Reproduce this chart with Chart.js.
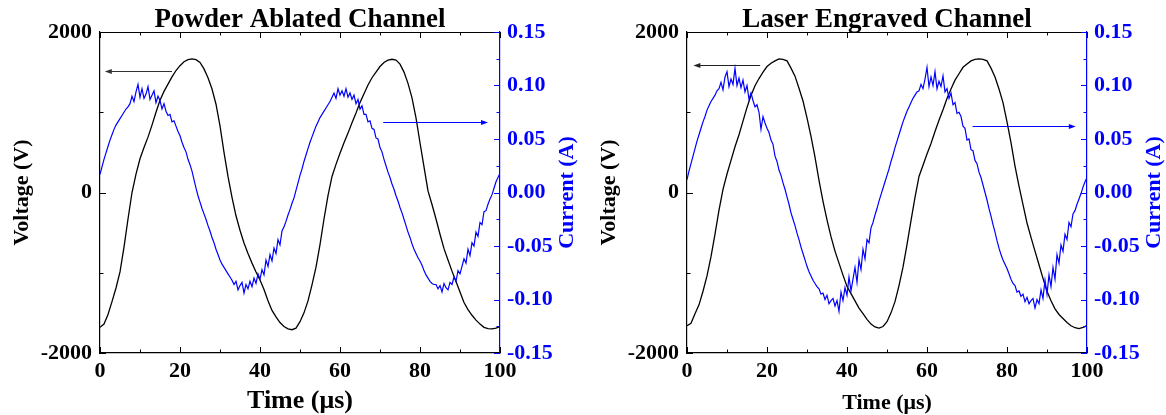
<!DOCTYPE html>
<html>
<head>
<meta charset="utf-8">
<script src="https://cdn.jsdelivr.net/npm/chart.js@4.4.1/dist/chart.umd.min.js"></script>
<style>
  html, body { margin: 0; padding: 0; background: #fff; }
  #wrap { position: relative; width: 1166px; height: 415px; }
  #wrap canvas { position: absolute; top: 0; }
</style>
</head>
<body>
<div id="wrap">
  <canvas id="powder" width="583" height="415" style="left:0"></canvas>
  <canvas id="laser" width="583" height="415" style="left:583px"></canvas>
</div>
<script>
// axis ticks
const timeTicks = [0, 20, 40, 60, 80, 100];
const timeMinorTicks = [10, 30, 50, 70, 90];
const voltageTicks = [-2000, 0, 2000];
const voltageMinorTicks = [-1000, 1000];
const currentTicks = [-0.15, -0.10, -0.05, 0, 0.05, 0.10, 0.15];
const currentMinorTicks = [-0.125, -0.075, -0.025, 0.025, 0.075, 0.125];

// sample spacing in µs (both traces start at 0 µs)
const voltageStep = 1;
const currentStep = 0.5;

// Powder ablated channel, voltage (V)
const powderVoltage = [
  -1680, -1640, -1520, -1360, -1190, -990, -680, -330, 0, 230,
  420, 560, 690, 840, 1000, 1150, 1260, 1350, 1440, 1520,
  1580, 1630, 1655, 1665, 1655, 1620, 1540, 1430, 1290, 1100,
  830, 500, 200, -60, -290, -470, -630, -760, -880, -990,
  -1090, -1210, -1350, -1470, -1550, -1620, -1670, -1700, -1710, -1690,
  -1610, -1500, -1350, -1150, -930, -650, -330, -40, 200, 350,
  490, 620, 740, 870, 990, 1120, 1230, 1340, 1430, 1500,
  1570, 1620, 1650, 1660, 1650, 1600, 1500, 1360, 1180, 930,
  620, 320, 20, -150, -330, -520, -700, -840, -980, -1110,
  -1240, -1370, -1460, -1530, -1590, -1640, -1680, -1695, -1700, -1690,
  -1670
];

// Powder ablated channel, current (A)
const powderCurrent = [
  0.017, 0.024, 0.031, 0.037, 0.043, 0.049, 0.054, 0.059, 0.063, 0.066,
  0.069, 0.072, 0.075, 0.078, 0.080, 0.083, 0.090, 0.085, 0.094, 0.101,
  0.089, 0.097, 0.088, 0.092, 0.099, 0.087, 0.091, 0.095, 0.084, 0.090,
  0.086, 0.078, 0.083, 0.076, 0.072, 0.073, 0.066, 0.067, 0.062, 0.057,
  0.053, 0.047, 0.042, 0.038, 0.031, 0.026, 0.020, 0.012, 0.004, -0.003,
  -0.009, -0.015, -0.020, -0.025, -0.031, -0.036, -0.042, -0.047, -0.053, -0.058,
  -0.063, -0.067, -0.070, -0.073, -0.076, -0.079, -0.082, -0.086, -0.083, -0.091,
  -0.087, -0.084, -0.094, -0.086, -0.090, -0.083, -0.088, -0.080, -0.085, -0.076,
  -0.081, -0.072, -0.077, -0.063, -0.069, -0.058, -0.064, -0.052, -0.057, -0.044,
  -0.049, -0.036, -0.032, -0.027, -0.021, -0.016, -0.010, -0.005, 0.002, 0.009,
  0.016, 0.022, 0.029, 0.035, 0.041, 0.047, 0.052, 0.057, 0.062, 0.066,
  0.070, 0.073, 0.076, 0.079, 0.082, 0.085, 0.089, 0.093, 0.088, 0.097,
  0.091, 0.095, 0.090, 0.097, 0.089, 0.093, 0.087, 0.091, 0.083, 0.087,
  0.078, 0.081, 0.073, 0.073, 0.066, 0.067, 0.060, 0.059, 0.051, 0.050,
  0.042, 0.038, 0.031, 0.025, 0.019, 0.014, 0.008, 0.003, -0.003, -0.008,
  -0.014, -0.019, -0.025, -0.031, -0.037, -0.042, -0.048, -0.053, -0.057, -0.061,
  -0.064, -0.068, -0.073, -0.077, -0.080, -0.083, -0.085, -0.086, -0.086, -0.090,
  -0.087, -0.093, -0.085, -0.089, -0.091, -0.084, -0.086, -0.079, -0.083, -0.073,
  -0.076, -0.069, -0.062, -0.066, -0.053, -0.059, -0.047, -0.050, -0.037, -0.041,
  -0.028, -0.030, -0.018, -0.017, -0.011, -0.006, -0.002, 0.004, 0.010, 0.014,
  0.018
];

// Laser engraved channel, voltage (V)
const laserVoltage = [
  -1660, -1630, -1510, -1400, -1230, -1040, -800, -520, -220, 40,
  230, 400, 570, 720, 890, 1060, 1210, 1330, 1420, 1500,
  1570, 1610, 1640, 1665, 1660, 1640, 1550, 1450, 1300, 1140,
  930, 700, 440, 150, -110, -340, -550, -730, -880, -1030,
  -1170, -1260, -1350, -1440, -1510, -1580, -1640, -1675, -1690, -1670,
  -1610, -1500, -1360, -1160, -930, -650, -350, -60, 200, 340,
  480, 610, 760, 900, 1030, 1170, 1290, 1400, 1480, 1560,
  1600, 1640, 1660, 1665, 1660, 1640, 1550, 1440, 1290, 1120,
  880, 620, 330, 80, -150, -380, -560, -730, -900, -1070,
  -1230, -1350, -1450, -1520, -1570, -1620, -1660, -1685, -1695, -1680,
  -1660
];

// Laser engraved channel, current (A)
const laserCurrent = [
  0.012, 0.020, 0.027, 0.034, 0.041, 0.048, 0.054, 0.060, 0.066, 0.071,
  0.077, 0.081, 0.085, 0.088, 0.091, 0.095, 0.097, 0.103, 0.096, 0.108,
  0.113, 0.099, 0.106, 0.101, 0.116, 0.100, 0.107, 0.098, 0.105, 0.094,
  0.100, 0.087, 0.093, 0.086, 0.080, 0.082, 0.075, 0.059, 0.071, 0.065,
  0.060, 0.056, 0.049, 0.045, 0.034, 0.029, 0.021, 0.016, 0.009, 0.003,
  -0.004, -0.011, -0.019, -0.025, -0.031, -0.038, -0.044, -0.051, -0.057, -0.063,
  -0.069, -0.074, -0.078, -0.082, -0.085, -0.088, -0.090, -0.095, -0.094, -0.100,
  -0.096, -0.104, -0.101, -0.099, -0.106, -0.101, -0.111, -0.093, -0.101, -0.089,
  -0.096, -0.079, -0.092, -0.081, -0.070, -0.084, -0.063, -0.072, -0.053, -0.062,
  -0.044, -0.047, -0.033, -0.028, -0.021, -0.015, -0.008, -0.002, 0.004, 0.010,
  0.016, 0.022, 0.029, 0.035, 0.042, 0.048, 0.054, 0.060, 0.066, 0.071,
  0.076, 0.080, 0.084, 0.088, 0.091, 0.094, 0.095, 0.101, 0.097, 0.106,
  0.117, 0.099, 0.108, 0.100, 0.113, 0.097, 0.104, 0.099, 0.109, 0.094,
  0.097, 0.088, 0.093, 0.082, 0.084, 0.074, 0.075, 0.071, 0.062, 0.060,
  0.049, 0.050, 0.040, 0.039, 0.030, 0.027, 0.019, 0.014, 0.007, 0.000,
  -0.007, -0.015, -0.022, -0.030, -0.037, -0.045, -0.052, -0.058, -0.063, -0.067,
  -0.071, -0.076, -0.081, -0.085, -0.087, -0.093, -0.092, -0.097, -0.095, -0.102,
  -0.098, -0.104, -0.101, -0.099, -0.108, -0.100, -0.104, -0.091, -0.099, -0.082,
  -0.095, -0.077, -0.088, -0.070, -0.081, -0.058, -0.066, -0.049, -0.055, -0.039,
  -0.044, -0.028, -0.032, -0.020, -0.017, -0.011, -0.006, -0.001, 0.005, 0.010,
  0.014
];

const BLUE = '#0000ff';
const SERIF = '"Liberation Serif", "Times New Roman", serif';
Chart.defaults.font.family = SERIF;

const toPoints = (values, step) => values.map((y, i) => ({ x: i * step, y }));

// inward ticks, top edge, the two arrows, panel title and the current axis title
const frameDecor = {
  id: 'frameDecor',
  afterDraw(chart, args, opts) {
    const { ctx, chartArea: area, scales } = chart;
    const { x, voltage, current } = scales;
    const px = v => Math.round(x.getPixelForValue(v)) + 0.5;
    ctx.save();

    ctx.lineWidth = 1;
    ctx.strokeStyle = '#000';
    ctx.beginPath();
    ctx.moveTo(area.left, area.top + 0.5);
    ctx.lineTo(area.right, area.top + 0.5);
    for (const [list, len] of [[timeTicks, 6], [timeMinorTicks, 3.5]]) {
      for (const t of list) {
        ctx.moveTo(px(t), area.bottom);
        ctx.lineTo(px(t), area.bottom - len);
        ctx.moveTo(px(t), area.top);
        ctx.lineTo(px(t), area.top + len);
      }
    }
    for (const [list, len] of [[voltageTicks, 6], [voltageMinorTicks, 3.5]]) {
      for (const v of list) {
        const py = Math.round(voltage.getPixelForValue(v)) + 0.5;
        ctx.moveTo(area.left, py);
        ctx.lineTo(area.left + len, py);
      }
    }
    ctx.stroke();

    ctx.strokeStyle = BLUE;
    ctx.beginPath();
    for (const [list, len] of [[currentTicks, 6], [currentMinorTicks, 3.5]]) {
      for (const v of list) {
        const py = Math.round(current.getPixelForValue(v)) + 0.5;
        ctx.moveTo(area.right, py);
        ctx.lineTo(area.right - len, py);
      }
    }
    ctx.stroke();

    for (const a of opts.arrows) {
      const y = Math.round(scales[a.axis].getPixelForValue(a.value)) + 0.5;
      const x0 = x.getPixelForValue(a.from);
      const x1 = x.getPixelForValue(a.to);
      const dir = Math.sign(x1 - x0);
      ctx.strokeStyle = a.color;
      ctx.fillStyle = a.color;
      ctx.lineWidth = 1.2;
      ctx.beginPath();
      ctx.moveTo(x0, y);
      ctx.lineTo(x1 - dir * 4, y);
      ctx.stroke();
      ctx.beginPath();
      ctx.moveTo(x1, y);
      ctx.lineTo(x1 - dir * 7, y - 2.5);
      ctx.lineTo(x1 - dir * 7, y + 2.5);
      ctx.closePath();
      ctx.fill();
    }

    ctx.fillStyle = '#000';
    ctx.font = 'bold 27px ' + SERIF;
    ctx.textAlign = 'center';
    ctx.textBaseline = 'alphabetic';
    ctx.fillText(opts.title, (area.left + area.right) / 2, 27);

    // the current label reads bottom-to-top, same as the voltage label
    ctx.translate(area.right + 67, (area.top + area.bottom) / 2);
    ctx.rotate(-Math.PI / 2);
    ctx.fillStyle = BLUE;
    ctx.font = 'bold 22px ' + SERIF;
    ctx.textBaseline = 'middle';
    ctx.fillText('Current (A)', 0, 0);
    ctx.restore();
  }
};

function makePanel(id, cfg) {
  const tickFont = { family: SERIF, size: 22, weight: 'bold' };
  return new Chart(document.getElementById(id), {
    type: 'line',
    data: {
      datasets: [
        {
          label: 'Current',
          yAxisID: 'current',
          data: toPoints(cfg.current, currentStep),
          borderColor: BLUE,
          borderWidth: 1.2,
          pointRadius: 0,
          tension: 0,
          order: 0
        },
        {
          label: 'Voltage',
          yAxisID: 'voltage',
          data: toPoints(cfg.voltage, voltageStep),
          borderColor: '#000',
          borderWidth: 1.3,
          pointRadius: 0,
          tension: 0,
          order: 1
        }
      ]
    },
    options: {
      responsive: false,
      animation: false,
      events: [],
      layout: { padding: { top: 32, left: 0, right: 0, bottom: 0 } },
      plugins: {
        legend: { display: false },
        tooltip: { enabled: false },
        frameDecor: { title: cfg.title, arrows: cfg.arrows }
      },
      scales: {
        x: {
          type: 'linear',
          min: 0,
          max: 100,
          afterBuildTicks: s => { s.ticks = timeTicks.map(value => ({ value })); },
          afterFit: s => { s.height = 62; },
          grid: { display: false, drawTicks: false },
          border: { display: true, color: '#000', width: 1.2 },
          ticks: { color: '#000', font: tickFont, padding: 5, maxRotation: 0, autoSkip: false, callback: v => String(v) },
          title: {
            display: true,
            text: 'Time (μs)',
            color: '#000',
            font: { family: SERIF, size: cfg.xTitleSize, weight: 'bold', lineHeight: 1 },
            padding: { top: 0, bottom: 1 }
          }
        },
        voltage: {
          type: 'linear',
          position: 'left',
          min: -2000,
          max: 2000,
          afterBuildTicks: s => { s.ticks = voltageTicks.map(value => ({ value })); },
          afterFit: s => { s.width = cfg.leftWidth; },
          grid: { display: false, drawTicks: false },
          border: { display: true, color: '#000', width: 1.2 },
          ticks: { color: '#000', font: tickFont, padding: 8, callback: v => String(v) },
          title: {
            display: true,
            text: 'Voltage (V)',
            color: '#000',
            font: { family: SERIF, size: 22, weight: 'bold', lineHeight: 1 },
            padding: { top: cfg.leftWidth - 89, bottom: 0 }
          }
        },
        current: {
          type: 'linear',
          position: 'right',
          min: -0.15,
          max: 0.15,
          afterBuildTicks: s => { s.ticks = currentTicks.map(value => ({ value })); },
          afterFit: s => { s.width = 583 - cfg.leftWidth - 400; },
          grid: { display: false, drawTicks: false },
          border: { display: true, color: BLUE, width: 1.2 },
          ticks: { color: BLUE, font: tickFont, padding: 7, callback: v => v.toFixed(2) }
        }
      }
    },
    plugins: [frameDecor]
  });
}

makePanel('powder', {
  title: 'Powder Ablated Channel',
  voltage: powderVoltage,
  current: powderCurrent,
  leftWidth: 100,
  xTitleSize: 26,
  arrows: [
    { axis: 'voltage', value: 1520, from: 18, to: 1.2, color: '#333' },
    { axis: 'current', value: 0.066, from: 70.8, to: 97, color: BLUE }
  ]
});

makePanel('laser', {
  title: 'Laser Engraved Channel',
  voltage: laserVoltage,
  current: laserCurrent,
  leftWidth: 104,
  xTitleSize: 22,
  arrows: [
    { axis: 'voltage', value: 1585, from: 18.3, to: 1.6, color: '#222' },
    { axis: 'current', value: 0.0625, from: 71.4, to: 97.2, color: BLUE }
  ]
});
</script>
</body>
</html>
